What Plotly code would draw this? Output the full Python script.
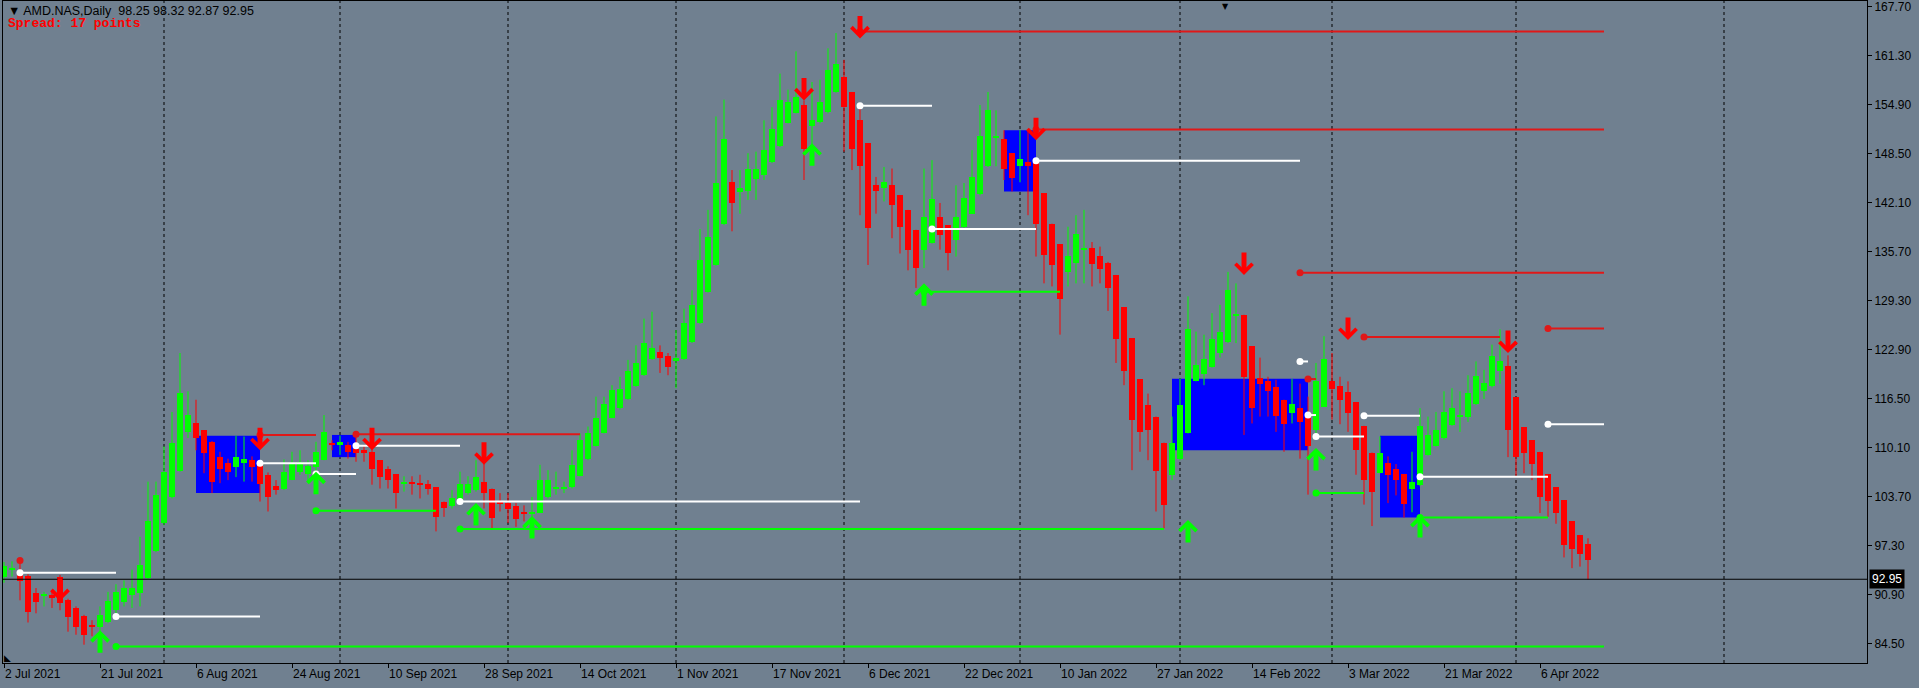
import plotly.graph_objects as go

# ---------------- data ----------------
opens = [93.2, 94.1, 93.8, 93.4, 91.1, 90.8, 90.9, 93.2, 90.2, 89.2,
         88.1, 86.9, 86.7, 87.4, 88.9, 90.0, 90.9, 91.1, 93.1, 96.7,
         100.3, 103.7, 107.1, 112.2, 113.4, 112.4, 110.9, 108.9, 108.2, 107.6,
         108.2, 108.5, 108.1, 106.6, 105.1, 104.8, 105.9, 107.0, 106.7, 107.6,
         108.5, 110.6, 110.5, 110.5, 110.0, 109.8, 109.6, 108.5, 107.4, 106.7,
         105.4, 105.5, 105.4, 105.4, 105.0, 103.1, 102.5, 103.3, 104.2, 104.6,
         105.6, 104.8, 102.9, 102.9, 102.5, 101.6, 101.5, 101.6, 103.7, 104.7,
         104.8, 105.0, 106.4, 108.6, 110.3, 112.1, 114.0, 115.3, 116.5, 118.2,
         119.6, 121.7, 122.6, 122.1, 121.4, 121.7, 123.9, 126.4, 130.5, 134.0,
         139.4, 144.9, 143.5, 143.7, 145.2, 145.8, 147.4, 149.5, 152.6, 153.9,
         154.9, 152.1, 152.7, 154.0, 156.6, 158.5, 156.6, 152.9, 149.9, 144.4,
         144.0, 144.4, 143.1, 141.2, 138.6, 136.0, 136.9, 140.3, 139.2, 137.3,
         139.0, 140.7, 143.3, 146.9, 150.6, 150.5, 148.6, 146.9, 147.4, 147.6,
         143.4, 139.4, 136.7, 133.1, 134.2, 136.0, 136.2, 135.2, 134.3, 132.7,
         128.5, 124.4, 119.1, 115.7, 114.2, 110.8, 106.6, 108.7, 112.1, 118.9,
         119.8, 120.7, 122.5, 123.9, 127.4, 127.5, 123.4, 119.3, 118.9, 118.1,
         116.4, 114.7, 115.3, 114.4, 112.4, 115.5, 118.8, 118.2, 117.4, 116.1,
         113.0, 109.5, 106.8, 108.1, 107.4, 106.7, 104.7, 105.3, 109.2, 110.4,
         111.4, 113.1, 114.2, 114.2, 115.8, 117.6, 118.2, 120.1, 120.8, 116.7,
         112.8, 111.1, 109.6, 106.7, 105.0, 103.3, 100.5, 98.7, 97.6]
highs = [95.2, 95.3, 95.0, 93.6, 91.8, 91.3, 91.3, 93.5, 90.4, 89.4,
         88.3, 87.6, 89.4, 91.3, 92.3, 92.8, 94.2, 98.5, 105.7, 105.7,
         110.3, 114.8, 122.5, 117.5, 116.4, 112.4, 111.0, 109.6, 108.7, 111.7,
         111.6, 109.0, 108.1, 106.9, 105.9, 108.6, 109.6, 109.8, 108.5, 110.9,
         114.4, 111.1, 111.7, 110.9, 111.9, 110.5, 110.3, 108.5, 107.7, 106.7,
         106.4, 106.4, 106.6, 105.9, 105.0, 103.1, 104.6, 107.0, 106.4, 108.5,
         108.3, 104.8, 104.2, 104.2, 102.9, 102.6, 103.7, 107.9, 107.2, 107.0,
         105.7, 109.8, 112.0, 112.9, 116.8, 116.8, 118.3, 119.4, 121.6, 123.5,
         127.0, 127.9, 123.5, 122.5, 125.5, 128.3, 130.7, 138.7, 141.2, 153.4,
         155.6, 146.4, 146.4, 148.6, 148.8, 152.9, 154.6, 159.0, 156.9, 161.9,
         155.5, 157.9, 158.2, 162.3, 164.3, 160.8, 156.6, 155.1, 149.9, 145.5,
         146.8, 146.6, 143.1, 141.2, 138.6, 146.6, 147.7, 142.1, 139.2, 144.4,
         144.7, 149.0, 154.9, 156.6, 154.2, 151.6, 148.6, 151.6, 151.6, 147.6,
         143.4, 139.4, 136.7, 139.0, 140.5, 141.2, 137.0, 136.4, 134.4, 132.7,
         128.5, 124.4, 119.1, 117.2, 114.2, 110.8, 114.2, 119.2, 129.9, 125.3,
         124.9, 127.7, 128.8, 133.1, 131.6, 127.5, 123.4, 121.9, 119.4, 119.0,
         116.4, 119.1, 118.5, 116.8, 121.2, 124.7, 122.5, 119.4, 118.8, 116.1,
         113.0, 109.5, 111.6, 109.0, 108.0, 106.7, 109.6, 115.3, 114.2, 114.8,
         117.5, 117.9, 117.5, 119.6, 121.4, 120.3, 123.6, 125.6, 122.2, 116.7,
         112.8, 111.1, 109.6, 106.7, 105.0, 103.3, 100.5, 98.7, 98.3]
lows = [92.5, 93.3, 90.2, 87.3, 88.5, 89.4, 89.2, 88.9, 86.1, 85.7,
        84.4, 85.5, 84.1, 87.2, 88.5, 89.4, 89.2, 89.4, 93.0, 96.5,
        100.0, 103.5, 107.0, 111.4, 109.8, 106.8, 104.2, 105.5, 105.9, 106.3,
        105.7, 105.7, 103.1, 101.8, 104.0, 104.6, 105.9, 106.6, 105.9, 106.3,
        108.5, 109.8, 109.2, 108.7, 108.3, 108.3, 105.3, 104.8, 104.8, 102.2,
        104.4, 104.0, 103.5, 104.0, 99.2, 101.1, 102.2, 103.1, 104.0, 104.4,
        102.2, 99.6, 101.8, 100.3, 99.8, 100.5, 100.0, 101.6, 103.5, 104.0,
        104.2, 104.8, 106.4, 108.5, 110.3, 112.0, 114.0, 115.1, 116.4, 118.1,
        119.5, 121.6, 119.9, 119.6, 117.9, 121.6, 123.8, 126.3, 130.4, 133.9,
        139.2, 138.4, 140.7, 142.5, 142.5, 145.1, 147.3, 149.4, 152.5, 153.8,
        145.1, 148.0, 152.5, 153.8, 156.5, 148.8, 146.4, 140.5, 134.0, 140.7,
        142.3, 137.5, 135.5, 133.3, 131.0, 133.6, 136.8, 136.0, 133.3, 135.1,
        138.8, 140.7, 143.1, 146.8, 146.9, 145.1, 143.6, 144.8, 140.5, 135.1,
        131.6, 131.2, 124.9, 131.2, 131.6, 131.6, 131.2, 131.6, 128.0, 121.2,
        118.3, 107.2, 109.6, 108.5, 101.8, 99.6, 105.9, 108.5, 112.0, 118.8,
        118.3, 120.6, 121.9, 123.8, 123.8, 111.8, 113.3, 114.2, 114.2, 112.2,
        109.6, 113.3, 108.7, 104.0, 112.0, 115.5, 113.8, 113.2, 112.2, 106.6,
        102.7, 99.9, 106.8, 102.9, 103.9, 101.0, 101.7, 105.1, 109.1, 110.3,
        111.2, 113.0, 112.2, 113.5, 115.7, 116.5, 118.0, 118.5, 108.9, 106.4,
        106.8, 105.9, 101.6, 101.1, 100.2, 95.8, 94.4, 94.6, 92.9]
closes = [94.7, 94.4, 92.7, 88.7, 90.0, 90.9, 90.5, 89.9, 88.0, 86.7,
          85.7, 86.8, 88.3, 90.1, 91.3, 91.8, 91.8, 94.8, 100.5, 104.0,
          107.0, 110.7, 117.3, 114.4, 111.4, 109.4, 105.7, 107.4, 107.0, 108.9,
          108.6, 107.6, 105.4, 103.7, 104.6, 106.9, 108.1, 108.3, 107.7, 109.6,
          112.2, 110.5, 110.9, 109.6, 109.4, 109.4, 107.4, 106.3, 105.9, 104.2,
          105.5, 105.4, 105.3, 104.7, 101.1, 102.2, 103.5, 105.4, 105.4, 106.3,
          104.2, 101.0, 102.8, 102.1, 100.8, 101.5, 101.8, 105.9, 105.9, 105.0,
          104.9, 107.9, 111.1, 112.0, 114.0, 115.9, 117.7, 117.8, 120.1, 121.2,
          123.8, 123.1, 121.8, 120.7, 121.9, 126.4, 128.8, 134.7, 137.7, 144.7,
          150.5, 142.1, 144.0, 146.6, 146.5, 149.0, 151.7, 155.6, 155.3, 156.0,
          149.2, 153.0, 155.3, 159.5, 160.3, 154.7, 149.2, 146.9, 138.8, 143.7,
          144.8, 141.8, 139.0, 136.0, 133.6, 140.3, 142.6, 137.9, 135.6, 140.3,
          142.7, 145.5, 150.8, 154.2, 150.7, 146.5, 145.4, 147.9, 146.9, 139.4,
          135.3, 134.0, 129.5, 135.2, 138.0, 136.1, 134.1, 133.5, 131.0, 124.3,
          120.2, 113.8, 112.2, 112.5, 107.1, 102.6, 110.8, 115.7, 125.7, 120.9,
          121.7, 124.3, 125.3, 130.7, 127.5, 119.4, 115.3, 118.5, 117.5, 114.3,
          113.2, 115.8, 113.5, 110.3, 118.9, 121.7, 117.8, 116.4, 114.7, 109.8,
          105.9, 104.3, 109.4, 106.6, 105.9, 102.8, 105.7, 113.0, 111.8, 112.4,
          114.8, 115.3, 114.3, 117.3, 119.5, 118.6, 122.1, 121.5, 112.5, 108.9,
          109.4, 108.0, 103.7, 103.2, 101.6, 97.4, 96.9, 96.3, 95.5]

# date labels every 12 bars (bar index of each label)
date_tick_bars = [0, 12, 24, 36, 48, 60, 72, 84, 96, 108, 120, 132, 144, 156, 168, 180, 192]
date_tick_labels = ["2 Jul 2021", "21 Jul 2021", "6 Aug 2021", "24 Aug 2021", "10 Sep 2021",
                    "28 Sep 2021", "14 Oct 2021", "1 Nov 2021", "17 Nov 2021", "6 Dec 2021",
                    "22 Dec 2021", "10 Jan 2022", "27 Jan 2022", "14 Feb 2022", "3 Mar 2022",
                    "21 Mar 2022", "6 Apr 2022"]
# month separators (bar index)
month_grid_bars = [20, 42, 63, 84, 105, 127, 147, 166, 189, 215]
price_ticks = [84.50, 90.90, 97.30, 103.70, 110.10, 116.50, 122.90, 129.30,
               135.70, 142.10, 148.50, 154.90, 161.30, 167.70]
last_price = 92.95

# supply / demand zones
zone_start = [24, 41, 125, 146, 172]
zone_end = [32, 44, 129, 163, 177]
zone_low = [104.2, 108.9, 143.6, 109.8, 101.0]
zone_high = [111.7, 111.8, 151.6, 119.15, 111.7]

# resistance (red) levels
res_start = [32, 44, 107, 129, 162, 163, 170, 193]
res_end = [39, 72, 200, 200, 200, 164, 187, 200]
res_price = [111.8, 111.9, 164.5, 151.7, 133.0, 119.1, 124.6, 125.7]
# middle (white) levels
mid_start = [2, 14, 32, 39, 44, 57, 107, 116, 129, 162, 163, 164, 170, 177, 193]
mid_end = [14, 32, 39, 44, 57, 107, 116, 129, 162, 163, 164, 170, 177, 193, 200]
mid_price = [93.8, 88.07, 108.1, 106.7, 110.4, 103.1, 154.8, 138.7, 147.6,
             121.4, 114.4, 111.6, 114.3, 106.35, 113.2]
# support (green) levels
sup_start = [14, 39, 57, 115, 164, 177]
sup_end = [200, 54, 145, 132, 170, 193]
sup_price = [84.15, 101.9, 99.5, 130.5, 104.2, 101.0]
# extra red dot
peak_dot_bar = [2]
peak_dot_price = [95.4]

# signal arrows (bar index, tip price)
sell_bar = [7, 32, 46, 60, 100, 107, 129, 155, 168, 188]
sell_price = [90.1, 109.8, 109.8, 107.9, 155.5, 163.6, 150.3, 132.7, 124.2, 122.5]
buy_bar = [12, 39, 59, 66, 101, 115, 148, 164, 177]
buy_price = [86.3, 107.0, 102.9, 101.2, 149.9, 131.6, 100.7, 110.1, 101.35]

# ---------------- styling ----------------
BG = "#708090"
UP = "#00ff00"
DN = "#ff0000"
RES = "#e01818"
SUP = "#00ff00"
MID = "#ffffff"
ZONE = "#0000ff"
AXFONT = dict(family="Liberation Sans, Arial, sans-serif", size=12, color="#000000")

fig = go.Figure()

bars = list(range(len(opens)))
up_idx = [i for i in bars if closes[i] >= opens[i]]
dn_idx = [i for i in bars if closes[i] < opens[i]]


def wick_xy(idx):
    xs, ys = [], []
    for i in idx:
        xs += [i, i, None]
        ys += [lows[i], highs[i], None]
    return xs, ys


for idx, col in ((up_idx, UP), (dn_idx, DN)):
    base = [min(opens[i], closes[i]) for i in idx]
    h = [max(abs(closes[i] - opens[i]), 0.14) for i in idx]
    fig.add_trace(go.Bar(x=idx, y=h, base=base, width=0.65,
                         marker=dict(color=col, line=dict(width=0)),
                         hoverinfo="skip", showlegend=False))
for idx, col in ((up_idx, UP), (dn_idx, DN)):
    wx, wy = wick_xy(idx)
    fig.add_trace(go.Scatter(x=wx, y=wy, mode="lines", line=dict(color=col, width=1),
                             hoverinfo="skip", showlegend=False))


def level_traces(starts, ends, prices, col):
    xs, ys = [], []
    for s, e, p in zip(starts, ends, prices):
        xs += [s, e, None]
        ys += [p, p, None]
    fig.add_trace(go.Scatter(x=xs, y=ys, mode="lines", line=dict(color=col, width=2),
                             hoverinfo="skip", showlegend=False))
    fig.add_trace(go.Scatter(x=starts, y=prices, mode="markers",
                             marker=dict(color=col, size=7, line=dict(width=0)),
                             hoverinfo="skip", showlegend=False))


level_traces(sup_start, sup_end, sup_price, SUP)
level_traces(res_start, res_end, res_price, RES)
level_traces(mid_start, mid_end, mid_price, MID)
fig.add_trace(go.Scatter(x=peak_dot_bar, y=peak_dot_price, mode="markers",
                         marker=dict(color=RES, size=7), hoverinfo="skip", showlegend=False))

shapes = []
for g in month_grid_bars:
    shapes.append(dict(type="line", xref="x", yref="paper", x0=g, x1=g, y0=0, y1=1,
                       line=dict(color="#000000", width=1, dash="3px,3px"), layer="below"))
for s, e, lo, hi in zip(zone_start, zone_end, zone_low, zone_high):
    shapes.append(dict(type="rect", xref="x", yref="y", x0=s, x1=e, y0=lo, y1=hi,
                       fillcolor=ZONE, line=dict(width=0), layer="below"))
shapes.append(dict(type="line", xref="paper", yref="y", x0=0, x1=1, y0=last_price, y1=last_price,
                   line=dict(color="#000000", width=1), layer="above"))

annotations = []
for b, p in zip(sell_bar, sell_price):
    annotations.append(dict(x=b, y=p, xref="x", yref="y", text="", showarrow=True,
                            ax=0, ay=-24, arrowhead=4, arrowsize=0.66, arrowwidth=5,
                            arrowcolor=DN))
for b, p in zip(buy_bar, buy_price):
    annotations.append(dict(x=b, y=p, xref="x", yref="y", text="", showarrow=True,
                            ax=0, ay=24, arrowhead=4, arrowsize=0.66, arrowwidth=5,
                            arrowcolor=UP))
annotations.append(dict(x=0, y=1, xref="paper", yref="paper", xanchor="left", yanchor="top",
                        xshift=3, yshift=-1, showarrow=False,
                        text="\u25bc AMD.NAS,Daily\u00a0\u00a098.25 98.32 92.87 92.95",
                        font=dict(family="Liberation Sans, Arial, sans-serif", size=12.5, color="#000000")))
annotations.append(dict(x=0, y=1, xref="paper", yref="paper", xanchor="left", yanchor="top",
                        xshift=3, yshift=-13, showarrow=False, text="<b>Spread: 17 points</b>",
                        font=dict(family="Liberation Mono, Courier New, monospace", size=13, color="#ff0000")))
annotations.append(dict(x=1, y=last_price, xref="paper", yref="y", xanchor="left", yanchor="middle",
                        xshift=2, showarrow=False, text=f"{last_price:.2f}", bgcolor="#000000",
                        borderpad=2, font=dict(family="Liberation Sans, Arial, sans-serif", size=12, color="#ffffff")))
annotations.append(dict(x=0.6556, y=1, xref="paper", yref="paper", xanchor="center", yanchor="top",
                        yshift=1, showarrow=False, text="\u25bc",
                        font=dict(family="DejaVu Sans", size=8, color="#000000")))
annotations.append(dict(x=0, y=0, xref="paper", yref="paper", xanchor="left", yanchor="bottom",
                        xshift=-1, yshift=-2, showarrow=False, text="\u25e3",
                        font=dict(family="DejaVu Sans", size=9, color="#000000")))

fig.update_layout(
    width=1919, height=688, autosize=False,
    margin=dict(l=3, r=52, t=1, b=25, pad=0),
    paper_bgcolor=BG, plot_bgcolor=BG,
    barmode="overlay", bargap=0, showlegend=False,
    shapes=shapes, annotations=annotations,
    xaxis=dict(range=[-0.125, 232.875], showgrid=False, zeroline=False,
               tickmode="array", tickvals=date_tick_bars, ticktext=date_tick_labels,
               ticks="outside", ticklen=4, tickcolor="#000000", tickfont=AXFONT,
               ticklabelposition="outside right",
               showline=True, linecolor="#000000", linewidth=1, mirror=True),
    yaxis=dict(range=[82.01, 168.483], side="right", showgrid=False, zeroline=False,
               tickmode="array", tickvals=price_ticks, ticktext=[f"{v:.2f}" for v in price_ticks],
               ticks="outside", ticklen=4, tickcolor="#000000", tickfont=AXFONT,
               showline=True, linecolor="#000000", linewidth=1, mirror=True),
)

fig.write_html("out.html", config={"displayModeBar": False},
               post_script="document.body.style.margin='0px';document.body.style.overflow='hidden';")
